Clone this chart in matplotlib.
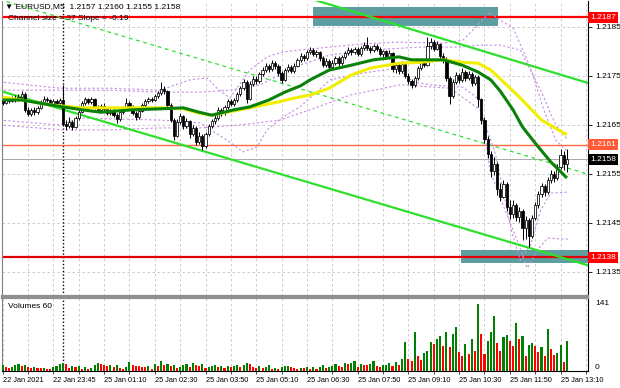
import numpy as np
import matplotlib.pyplot as plt
from matplotlib.patches import Rectangle
from matplotlib.transforms import blended_transform_factory

plt.rcParams['font.family'] = ['Liberation Sans', 'DejaVu Sans']

# EURUSD M5 bars, prices in pips above 1.2100
closes = [69.5, 70.2, 69.8, 70.6, 70.0, 70.8, 71.4, 68.0, 67.2, 68.0,
          67.6, 68.4, 69.6, 70.4, 70.0, 69.2, 69.8, 69.4, 70.0, 65.2,
          64.8, 65.6, 64.6, 66.4, 67.6, 69.4, 70.2, 69.6, 70.4, 68.6,
          68.0, 68.8, 68.2, 67.4, 68.0, 67.0, 66.2, 67.6, 68.4, 69.4,
          68.6, 67.4, 66.6, 67.8, 69.0, 69.8, 70.4, 70.0, 71.0, 71.6,
          72.4, 72.0, 69.0, 66.0, 62.8, 65.6, 66.8, 64.8, 65.8, 63.2,
          64.4, 61.6, 62.8, 60.8, 63.2, 64.8, 65.8, 66.4, 68.0, 67.4,
          68.6, 69.8, 69.2, 70.0, 71.4, 72.6, 73.8, 70.2, 73.4, 74.4,
          74.0, 75.4, 76.2, 77.0, 76.4, 77.6, 77.0, 75.6, 74.2, 76.2,
          76.8, 76.0, 77.0, 78.2, 79.0, 78.6, 79.8, 80.4, 79.4, 79.8,
          78.6, 77.2, 78.0, 76.8, 77.6, 78.6, 77.6, 78.8, 79.6, 80.4,
          79.8, 80.6, 79.4, 80.8, 81.4, 80.8, 80.2, 81.2, 80.6, 79.4,
          80.0, 78.8, 79.6, 76.4, 77.2, 76.0, 77.4, 75.0, 74.0, 73.2,
          74.6, 76.6, 77.8, 77.2, 81.2, 82.0, 80.6, 81.6, 79.0, 78.4,
          74.6, 71.0, 73.8, 75.2, 74.2, 75.8, 74.6, 75.4, 73.6, 74.8,
          70.2, 66.0, 62.2, 59.0, 55.6, 57.0, 52.0, 50.4, 53.0, 48.2,
          46.8, 48.6, 46.2, 47.4, 44.0, 45.6, 42.4, 46.0, 48.6, 51.0,
          52.6, 51.4, 53.8, 55.0, 54.2, 56.4, 58.8, 57.0, 58.0]
highs = [70.4, 70.8, 70.6, 71.0, 71.2, 71.4, 72.0, 71.8, 68.6, 68.4,
         68.6, 68.8, 70.0, 71.0, 70.8, 70.4, 70.2, 70.2, 70.6, 73.2,
         66.0, 66.6, 66.0, 66.8, 68.0, 69.8, 70.8, 70.6, 70.8, 70.6,
         69.0, 69.2, 69.4, 68.6, 68.4, 68.4, 67.4, 68.0, 68.8, 70.6,
         69.8, 69.0, 67.8, 68.2, 69.4, 70.2, 70.8, 70.8, 71.4, 72.0,
         73.8, 73.0, 72.2, 69.4, 66.4, 66.2, 67.4, 67.0, 66.4, 66.0,
         65.0, 64.8, 63.6, 63.2, 63.6, 65.2, 66.2, 67.0, 68.6, 68.4,
         69.0, 70.4, 70.2, 70.6, 71.8, 73.0, 74.4, 74.2, 74.0, 75.0,
         75.0, 75.8, 76.8, 77.6, 77.4, 78.2, 78.0, 77.4, 76.0, 76.6,
         77.4, 77.2, 77.6, 78.6, 79.6, 79.4, 80.4, 81.0, 80.8, 80.2,
         80.0, 79.0, 78.6, 78.4, 78.2, 79.0, 79.0, 79.2, 80.0, 81.0,
         80.8, 81.0, 81.0, 81.2, 82.0, 83.0, 81.2, 81.6, 81.6, 81.0,
         80.4, 80.4, 80.2, 79.8, 77.8, 77.6, 78.0, 77.6, 75.6, 74.4,
         75.0, 77.0, 78.2, 78.4, 83.0, 82.8, 82.4, 82.2, 81.8, 79.6,
         78.8, 75.0, 74.4, 75.8, 75.6, 76.6, 76.2, 76.0, 75.8, 75.2,
         75.2, 70.6, 66.6, 62.8, 59.6, 58.4, 57.4, 53.2, 53.8, 53.4,
         49.6, 49.6, 49.0, 48.2, 47.8, 46.4, 46.0, 46.6, 49.2, 51.6,
         53.2, 53.0, 54.4, 55.8, 55.6, 57.0, 60.0, 59.6, 60.0]
lows = [69.0, 69.2, 69.4, 69.6, 69.6, 69.8, 70.4, 67.6, 66.8, 66.8,
        67.0, 67.2, 68.2, 69.4, 69.6, 68.8, 68.8, 69.0, 69.0, 64.8,
        64.0, 64.4, 64.0, 64.4, 66.0, 67.4, 69.0, 69.2, 69.2, 68.2,
        67.6, 67.6, 67.8, 67.0, 67.0, 66.6, 65.4, 65.8, 67.2, 68.2,
        68.2, 67.0, 66.0, 66.2, 67.6, 68.6, 69.4, 69.6, 69.8, 70.6,
        71.2, 71.4, 68.6, 65.6, 62.0, 62.6, 65.2, 64.2, 64.4, 62.4,
        62.8, 61.0, 61.2, 59.9, 60.4, 62.8, 64.4, 65.2, 66.0, 66.8,
        67.0, 68.2, 68.8, 68.8, 69.6, 71.0, 72.2, 69.4, 70.0, 73.0,
        73.4, 73.6, 75.0, 75.8, 75.8, 76.0, 76.4, 75.0, 73.6, 74.0,
        75.8, 75.6, 75.6, 76.8, 77.8, 78.0, 78.2, 79.4, 79.0, 78.8,
        78.0, 76.8, 76.8, 76.2, 76.4, 77.2, 77.0, 77.2, 78.4, 79.2,
        79.2, 79.4, 79.0, 79.0, 80.4, 80.2, 79.6, 79.8, 80.0, 79.0,
        78.8, 78.4, 78.4, 75.8, 75.6, 75.4, 75.6, 74.6, 73.4, 72.5,
        72.8, 74.2, 76.2, 76.8, 77.0, 80.6, 80.0, 80.2, 78.4, 77.6,
        74.0, 69.2, 70.6, 73.4, 73.6, 73.8, 74.0, 74.2, 73.0, 73.2,
        68.6, 65.2, 61.4, 58.2, 54.4, 54.8, 50.8, 49.4, 50.0, 47.4,
        45.8, 46.0, 45.4, 45.2, 41.6, 41.8, 40.0, 42.0, 45.6, 48.0,
        50.4, 50.6, 51.0, 53.2, 53.4, 53.8, 56.0, 55.8, 55.5]
first_open = 69.8

volumes = [12, 8, 7, 9, 12, 14, 10, 13, 9, 7, 8, 7, 6, 7, 5, 4, 9, 11, 15, 16,
           15, 6, 11, 8, 10, 5, 9, 4, 7, 12, 17, 14, 12, 10, 13, 8, 12, 6, 5, 9,
           19, 12, 11, 10, 9, 8, 10, 5, 14, 11, 20, 12, 15, 11, 13, 6, 9, 12, 15, 8,
           16, 12, 10, 14, 7, 9, 11, 13, 9, 10, 6, 11, 8, 10, 13, 9, 12, 17, 14, 9,
           7, 10, 6, 8, 12, 5, 7, 4, 9, 10, 11, 8, 6, 5, 7, 6, 9, 4, 8, 5,
           9, 12, 6, 8, 10, 14, 11, 9, 17, 14, 16, 21, 9, 15, 13, 12, 14, 20, 11, 9,
           12, 13, 16, 10, 19, 13,
           25, 61, 26, 22, 82, 31, 24, 38, 42, 62, 56, 68, 73, 52, 82, 50, 77, 92,
           39, 31, 56, 35, 68, 42, 141, 77, 35, 64, 82, 115, 59, 43, 71, 75, 64, 52,
           101, 67, 73, 31, 55, 58, 52, 40, 50, 31, 89, 47, 33, 37, 54, 19, 64]

# moving averages: (bar, pips)
fast_ma_bars = [0, 6, 15, 25, 31, 41, 50, 57, 62, 66, 73, 78, 84, 89, 94, 97, 103,
                110, 117, 125, 129, 134, 139, 145, 150, 154, 157, 161, 164, 168, 173, 178]
fast_ma_vals = [70.1, 70.1, 69.1, 68.1, 67.6, 68.1, 68.3, 68.5, 67.6, 67.0, 68.1, 68.7,
                70.1, 71.7, 73.0, 74.2, 76.2, 77.2, 78.3, 78.9, 78.3, 78.3, 78.3, 77.2,
                75.8, 74.2, 71.9, 68.1, 64.6, 61.3, 57.4, 54.2]
slow_ma_bars = [0, 6, 15, 25, 34, 44, 50, 57, 62, 66, 78, 87, 92, 97, 103, 110, 116,
                125, 132, 139, 145, 150, 154, 157, 163, 166, 170, 178]
slow_ma_vals = [70.7, 70.1, 69.1, 68.5, 68.5, 68.5, 68.5, 68.3, 67.4, 67.0, 68.5, 69.7,
                70.5, 71.1, 72.5, 75.2, 76.6, 77.6, 77.8, 78.3, 77.8, 77.6, 76.2, 74.4,
                70.7, 68.7, 66.0, 63.0]

# envelope bands (purple dotted): (bar, pips)
band_up_a_bars = [-1, 18.1, 33.9, 49.6, 59.1, 64.5, 67.6, 71.7, 78.0, 83.4, 88.4, 93.8, 103.3,
                  112.7, 124.4, 138.9, 145.2, 149.9, 153.7, 156.9, 161.0, 166.5, 170.7, 174.5, 178.3]
band_up_a_vals = [73.8, 72.5, 72.5, 72.1, 74.2, 74.6, 72.5, 70.5, 76.2, 78.9, 79.9, 80.3, 80.9,
                  81.5, 81.9, 81.7, 82.3, 85.4, 88.0, 86.4, 84.8, 76.8, 68.1, 61.9, 59.5]
band_up_b_bars = [-1, 19.0, 33.9, 49.6, 62.3, 71.7, 81.2, 93.8, 103.3, 115.9, 131.7, 144.3,
                  150.6, 156.9, 163.3, 169.7, 174.5, 178.3]
band_up_b_vals = [72.1, 72.1, 72.1, 71.7, 71.7, 72.1, 73.2, 77.2, 79.3, 80.3, 80.9, 80.9,
                  81.3, 81.3, 80.3, 72.1, 65.0, 61.9]
band_lo_a_bars = [-1, 18.1, 24.4, 49.6, 62.3, 70.8, 75.8, 80.2, 83.4, 88.4, 93.8, 103.3, 113.7,
                  124.4, 129.5, 134.8, 145.2, 150.6, 153.7, 158.5, 162.3, 165.5, 168.7, 171.9, 178.3]
band_lo_a_vals = [66.0, 65.0, 66.4, 66.0, 65.4, 61.9, 59.5, 60.5, 64.0, 66.6, 68.7, 74.2, 75.6,
                  76.6, 73.8, 73.2, 72.7, 70.1, 55.8, 47.6, 41.5, 35.8, 39.5, 41.9, 41.7]
band_lo_b_bars = [-1, 19.0, 33.9, 49.6, 62.3, 74.9, 87.5, 97.0, 109.6, 125.4, 141.1, 150.6,
                  155.3, 160.7, 163.3, 166.5, 169.7, 172.9, 178.3]
band_lo_b_vals = [65.0, 64.0, 64.0, 64.4, 64.4, 65.0, 66.0, 68.1, 71.1, 73.2, 72.5, 68.1,
                  59.5, 43.0, 37.4, 40.5, 47.6, 51.1, 51.3]

# regression channel end points (bar, price)
chan_bars = [-1, 185]
chan_lower = [1.21720, 1.21363]
chan_mid = [1.21906, 1.21549]
chan_upper_bars = [97, 185]
chan_upper = [1.21908, 1.21735]

levels = [1.2187, 1.2161, 1.2158, 1.2138]
level_colors = ['#FF0000', '#FF6A45', '#A8A8A8', '#E00000']
level_boxes = ['#FF0000', '#FF5A35', '#000000', '#FF0000']

zones = [(97.9, 156.2, 1.21852, 1.21891), (144.5, 186.0, 1.21368, 1.21395)]

price_ticks = [1.2135, 1.2145, 1.2155, 1.2165, 1.2175, 1.2185]
time_bars = [0, 16, 32, 48, 64, 80, 96, 112, 128, 144, 160, 176]
time_labels = ['22 Jan 2021', '22 Jan 23:45', '25 Jan 01:10', '25 Jan 02:30',
               '25 Jan 03:50', '25 Jan 05:10', '25 Jan 06:30', '25 Jan 07:50',
               '25 Jan 09:10', '25 Jan 10:30', '25 Jan 11:50', '25 Jan 13:10']
separator_bar = 19


def px(p):
    return 1.21 + np.asarray(p, dtype=float) / 1e4


c = px(closes)
h = px(highs)
l = px(lows)
o = np.concatenate([[px(first_open)], c[:-1]])
idx = np.arange(len(c))

W, H = 620, 388
FS = 6.0
fig = plt.figure(figsize=(W / 100, H / 100), dpi=100)
ax = fig.add_axes([2 / W, (H - 296) / H, 586 / W, 295 / H])
av = fig.add_axes([2 / W, (H - 371) / H, 586 / W, 73 / H])

xmin, xmax = -0.2, 184.66
grid_kw = dict(color='#C4C4C4', linestyle=(0, (3, 3)), linewidth=0.6)
for a in (ax, av):
    a.set_xlim(xmin, xmax)
    a.set_xticks(range(8, 185, 8))
    a.grid(axis='x', **grid_kw)
    a.set_axisbelow(True)
    a.set_facecolor('white')

ax.set_ylim(1.21301, 1.21903)
ax.set_yticks(price_ticks)
ax.grid(axis='y', **grid_kw)
ax.yaxis.tick_right()
ax.set_yticklabels(['%.4f' % t for t in price_ticks])
ax.tick_params(axis='y', labelsize=FS, length=3, width=0.6, pad=2)
ax.tick_params(axis='x', length=0, labelbottom=False)

# zones
for x0, x1, y0, y1 in zones:
    ax.add_patch(Rectangle((x0, y0), x1 - x0, y1 - y0, facecolor='#5F9EA0',
                           edgecolor='none', zorder=1.5, clip_on=True))

# channel
ax.plot(chan_bars, chan_lower, color='#2EE02E', lw=1.6, zorder=4)
ax.plot(chan_upper_bars, chan_upper, color='#2EE02E', lw=1.6, zorder=4)
ax.plot(chan_bars, chan_mid, color='#2EE02E', lw=0.9, ls=(0, (3, 3)), zorder=4)

# bands
for bx, bv in [(band_up_a_bars, band_up_a_vals), (band_up_b_bars, band_up_b_vals),
               (band_lo_a_bars, band_lo_a_vals), (band_lo_b_bars, band_lo_b_vals)]:
    ax.plot(bx, px(bv), color='#C58DE3', lw=0.8, ls=(0, (2, 2)), zorder=3)

# horizontal levels
for lv, lc in zip(levels, level_colors):
    lw = 1.6 if lc in ('#FF0000', '#E00000') else 1.0
    if lc == '#A8A8A8':
        lw = 0.7
    ax.axhline(lv, color=lc, lw=lw, zorder=2.5)

ax.axvline(separator_bar, color='black', lw=1.0, ls=(0, (1, 1.5)), zorder=2.2)

# candles
up = c >= o
ax.vlines(idx, l, h, color='black', lw=0.7, zorder=5)
body_lo = np.minimum(o, c)
body_h = np.maximum(np.abs(c - o), 0.000012)
ax.bar(idx[up], body_h[up], bottom=body_lo[up], width=0.7, color='white',
       edgecolor='black', linewidth=0.55, zorder=6)
ax.bar(idx[~up], body_h[~up], bottom=body_lo[~up], width=0.7, color='black',
       edgecolor='black', linewidth=0.55, zorder=6)

# moving averages
ax.plot(slow_ma_bars, px(slow_ma_vals), color='#F2EE00', lw=2.2, zorder=7,
        solid_capstyle='butt')
ax.plot(fast_ma_bars, px(fast_ma_vals), color='#0A820A', lw=2.2, zorder=7.5,
        solid_capstyle='butt')

# level price boxes on the right scale
tr = blended_transform_factory(ax.transAxes, ax.transData)
for lv, bc in zip(levels, level_boxes):
    ax.text(1.004, lv, '%.4f' % lv, transform=tr, fontsize=FS, color='white',
            va='center', ha='left', zorder=10, clip_on=False,
            bbox=dict(boxstyle='square,pad=0.25', facecolor=bc, edgecolor='none'))

ax.spines['top'].set_visible(False)
ax.spines['left'].set_color('#808080')
ax.spines['right'].set_color('black')
ax.spines['right'].set_linewidth(0.8)
ax.spines['bottom'].set_color('#909090')
ax.spines['bottom'].set_linewidth(1.6)

# volumes
vol = np.asarray(volumes, dtype=float)
vcol = ['#008000'] + ['#008000' if vol[i] > vol[i - 1] else '#FF0000'
                      for i in range(1, len(vol))]
av.bar(idx, vol, width=0.66, color=vcol, zorder=3)
av.axvline(separator_bar, color='black', lw=1.0, ls=(0, (1, 1.5)), zorder=2.2)
av.set_ylim(0, 153.6)
av.set_yticks([])
av.spines['top'].set_color('#909090')
av.spines['top'].set_linewidth(1.6)
av.spines['left'].set_color('#808080')
av.spines['right'].set_linewidth(0.8)
av.spines['bottom'].set_linewidth(0.8)
trv = blended_transform_factory(av.transAxes, av.transData)
av.text(1.012, 141, '141', transform=trv, fontsize=FS, va='center', ha='left')
av.text(1.012, 0, '0', transform=trv, fontsize=FS, va='bottom', ha='left')
av.text(6 / 586, 0.88, 'Volumes 60', transform=av.transAxes, fontsize=FS,
        va='center', ha='left')

lab = []
for t in range(8, 185, 8):
    lab.append(time_labels[time_bars.index(t)] if t in time_bars else '')
av.set_xticks([0] + list(range(8, 185, 8)))
av.set_xticklabels([time_labels[0]] + lab)
for tl in av.get_xticklabels():
    tl.set_ha('left')
av.tick_params(axis='x', labelsize=5.3, length=2, width=0.5, pad=2)

# header texts
fig.text(5 / W, 1 - 7 / H, '\u25bc EURUSD,M5  1.2157 1.2160 1.2155 1.2158',
         fontsize=FS, va='center', ha='left')
fig.text(8 / W, 1 - 19 / H, 'Channel size = 37 Slope = -0.19',
         fontsize=FS, va='center', ha='left', zorder=1)

fig.savefig('out.png', dpi=100)
